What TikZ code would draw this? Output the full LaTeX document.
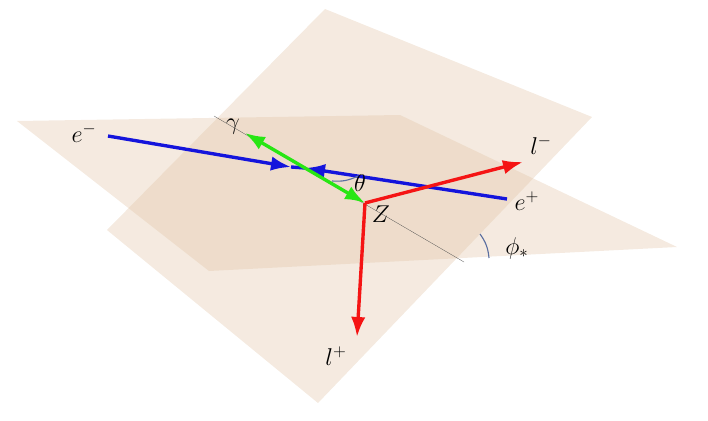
\documentclass[tikz,border=0pt]{standalone}
\usepackage{amsmath}
\usepackage{tikz}
\usetikzlibrary{arrows.meta}
\tikzset{>={Latex[length=5mm,width=3.6mm]}}
\definecolor{planecol}{RGB}{225,195,165}
\definecolor{vecblue}{RGB}{20,20,220}
\definecolor{vecgreen}{RGB}{40,230,20}
\definecolor{vecred}{RGB}{245,20,20}
\definecolor{arcblue}{RGB}{90,110,160}
\tikzstyle{plane} = [fill=planecol, fill opacity=0.35, draw=none]
\tikzstyle{vec} = [line width=2.4pt]
\tikzstyle{lab} = [font=\LARGE, inner sep=1pt]

\begin{document}
\begin{tikzpicture}[x=0.025cm, y=-0.025cm]
\useasboundingbox (0,0) rectangle (708,420);
    %planes
    \fill[plane] (17,121) -- (400,115) -- (677,247) -- (209,271) -- cycle;
    \fill[plane] (325,9) -- (592,117) -- (318,403) -- (107,230) -- cycle;
    %points
    \coordinate (Z) at (365,203);
    \coordinate (em) at (108,136);
    \coordinate (ep) at (507,199);
    \coordinate (mid) at (305,168);
    \coordinate (g) at (245,133);
    \coordinate (lm) at (523,162);
    \coordinate (lp) at (357,337);
    \coordinate (axA) at (214,116);
    \coordinate (axB) at (464,262);
    %axis
    \draw[very thin, black!70] (axA) -- (axB);
    %beams
    \draw[vec, vecblue, ->] (em) -- (291,167);
    \draw[vec, vecblue] (291,167) -- (mid);
    \draw[vec, vecblue, ->] (ep) -- (mid);
    %angles
    \draw[arcblue, thick] (332,181) to[bend right=15] (358,176);
    \draw[arcblue, thick] (480,234) to[bend left=15] (489,258);
    %photon
    \draw[vec, vecgreen, <->] (g) -- (Z);
    %leptons
    \draw[vec, vecred, ->] (Z) -- (lm);
    \draw[vec, vecred, ->] (Z) -- (lp);
    %labels
    \node[lab] (nem) at (84,133) {$e^{-}$};
    \node[lab] (ng) at (233,127) {$\gamma$};
    \node[lab] (nth) at (360,183) {$\theta$};
    \node[lab] (nZ) at (381,214) {$Z$};
    \node[lab] (nep) at (527,201) {$e^{+}$};
    \node[lab] (nlm) at (541,145) {$l^{-}$};
    \node[lab] (nlp) at (336,356) {$l^{+}$};
    \node[lab] (nphi) at (517,248) {$\phi_{*}$};
\end{tikzpicture}
\end{document}
